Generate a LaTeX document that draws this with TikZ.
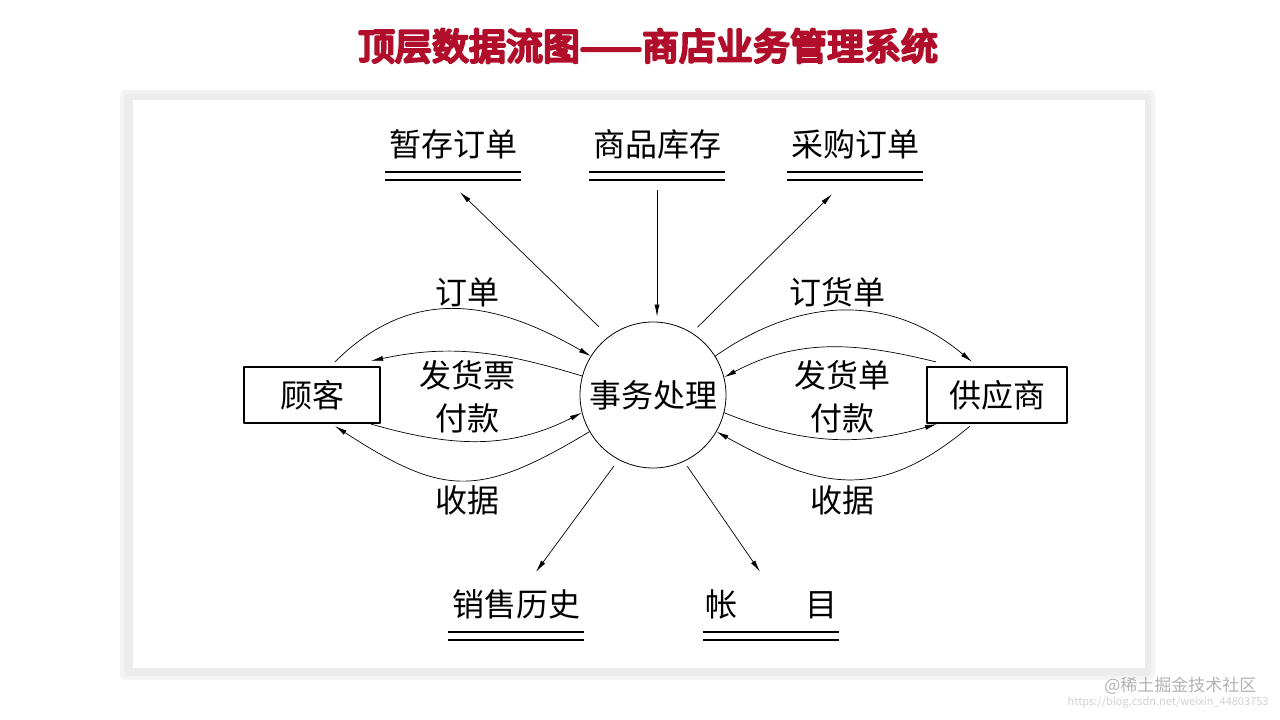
\documentclass[tikz,border=0pt]{standalone}
\usepackage{fontspec}
\usetikzlibrary{arrows.meta}
\newfontfamily\cnfont{Noto Sans CJK SC}
\newfontfamily\titlefont{Noto Sans CJK SC}[FakeBold=7]
\definecolor{titleRed}{RGB}{176,14,42}
\definecolor{shadowGray}{RGB}{236,236,236}
\definecolor{shadowEdge}{RGB}{244,244,244}
\tikzset{
  lbl/.style={font=\cnfont\fontsize{32}{34}\selectfont,inner sep=0pt},
  store/.style={lbl,minimum width=136pt,text height=28pt,text depth=4pt},
  entity/.style={lbl,draw,line width=2.2pt,minimum height=56pt},
  process/.style={lbl,circle,draw,line width=0.8pt,minimum size=146pt},
  flow/.style={line width=0.7pt,-{Latex[length=12pt,width=5pt]}},
  dbl/.style={line width=2.4pt,line cap=butt}
}

\begin{document}
\begin{tikzpicture}[x=1pt,y=1pt,line cap=round,line join=round]
\useasboundingbox (0,0) rectangle (1280,720);
\fill[white] (0,0) rectangle (1280,720);
% title and panel
\node[font=\titlefont\fontsize{37}{39}\selectfont,text=titleRed] (title) at (648,674) {顶层数据流图——商店业务管理系统};
\fill[shadowEdge,rounded corners=5pt] (120,40) rectangle (1155,630);
\fill[shadowGray,rounded corners=3pt] (124,44) rectangle (1151,626);
\fill[white] (133,52) rectangle (1145,620);
% stores
\node[store] (tmpOrder) at (453,575) {暂存订单};
\node[store] (stock) at (657,575) {商品库存};
\node[store] (purOrder) at (855,575) {采购订单};
\node[store] (salesHist) at (516,115) {销售历史};
\node[store] (account) at (771,115) {帐\hspace{68pt}目};
\foreach \s in {tmpOrder,stock,purOrder,salesHist,account} {
  \draw[dbl] ([yshift=-11pt]\s.south west) -- ([yshift=-11pt]\s.south east);
  \draw[dbl] ([yshift=-19pt]\s.south west) -- ([yshift=-19pt]\s.south east);
}
% process and entities
\node[process] (proc) at (653,325) {事务处理};
\node[entity,minimum width=136pt] (cust) at (312,325) {顾客};
\node[entity,minimum width=140pt] (supp) at (997,325) {供应商};
% store flows
\draw[flow,shorten <=14pt] (proc.127) -- ([xshift=7pt,yshift=-31pt]tmpOrder.south);
\draw[flow,shorten >=5pt] ([yshift=-29pt]stock.south) -- (proc.north -| stock.south);
\draw[flow,shorten <=8pt] (proc.58) -- ([xshift=-23pt,yshift=-33pt]purOrder.south);
\draw[flow,shorten <=8pt] (proc.242) -- ([xshift=20pt,yshift=17pt]salesHist.north);
\draw[flow,shorten <=6pt] (proc.-65) -- ([xshift=-11pt,yshift=17pt]account.north);
% customer flows
\draw[flow] ([xshift=23pt,yshift=4pt]cust.north) to[out=45,in=150,looseness=1.1] (proc.148);
\draw[flow] (proc.165) to[out=163,in=12] ([xshift=-10pt,yshift=5pt]cust.north east);
\draw[flow] ([xshift=-10pt]cust.south east) to[out=-16,in=207] (proc.194);
\draw[flow] (proc.210) to[out=211,in=-33,looseness=1.3] ([xshift=23pt,yshift=-2pt]cust.south);
\node[lbl] (lblOrder) at (467,428) {订单};
\node[lbl] (lblInvoice) at (467,345) {发货票};
\node[lbl] (lblPayL) at (467,302) {付款};
\node[lbl] (lblRcptL) at (467,220) {收据};
% supplier flows
\draw[flow] (proc.32) to[out=35,in=140,looseness=1.05] ([xshift=-25pt,yshift=4pt]supp.north);
\draw[flow] ([xshift=10pt,yshift=4pt]supp.north west) to[out=166,in=28] (proc.14);
\draw[flow] (proc.-14) to[out=-22,in=196] ([xshift=11pt]supp.south west);
\draw[flow] ([xshift=-27pt,yshift=-2pt]supp.south) to[out=220,in=-29,looseness=1.2] (proc.-30);
\node[lbl] (lblPurch) at (837,428) {订货单};
\node[lbl] (lblShip) at (842,345) {发货单};
\node[lbl] (lblPayR) at (842,302) {付款};
\node[lbl] (lblRcptR) at (842,220) {收据};
% watermark
\node[font=\cnfont\fontsize{17}{18}\selectfont,text=gray!60,anchor=east] (wmJuejin) at (1260,34) {@稀土掘金技术社区};
\node[font=\cnfont\fontsize{11}{12}\selectfont,text=gray!35,anchor=east] (wmCsdn) at (1272,18) {https://blog.csdn.net/weixin\_44803753};
\end{tikzpicture}
\end{document}
